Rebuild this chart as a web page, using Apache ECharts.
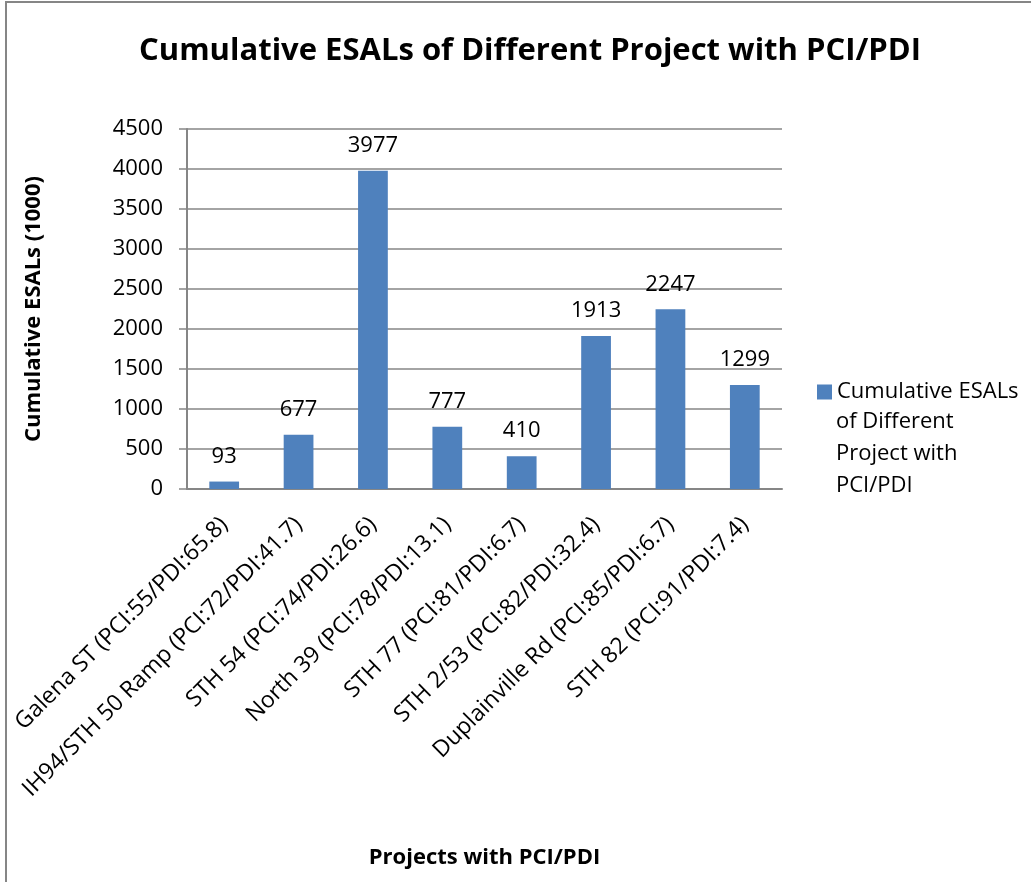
<!DOCTYPE html>
<html>
<head>
<meta charset="utf-8">
<script src="https://cdn.jsdelivr.net/npm/echarts@6/dist/echarts.min.js"></script>
<style>
  html, body { margin: 0; padding: 0; background: #fff; }
  #chart { width: 1031px; height: 882px; }
</style>
</head>
<body>
<div id="chart"></div>
<script>
const categories = [
  'Galena ST (PCI:55/PDI:65.8)',
  'IH94/STH 50 Ramp (PCI:72/PDI:41.7)',
  'STH 54 (PCI:74/PDI:26.6)',
  'North 39 (PCI:78/PDI:13.1)',
  'STH 77 (PCI:81/PDI:6.7)',
  'STH 2/53 (PCI:82/PDI:32.4)',
  'Duplainville Rd (PCI:85/PDI:6.7)',
  'STH 82 (PCI:91/PDI:7.4)'
]
const esals = [93, 677, 3977, 777, 410, 1913, 2247, 1299]
const seriesName = 'Cumulative ESALs of Different Project with PCI/PDI'

const font = 'Open Sans'
const axisGray = '#868686'

const chart = echarts.init(document.getElementById('chart'))
chart.setOption({
  animation: false,
  textStyle: { fontFamily: font },
  title: {
    text: 'Cumulative ESALs of Different Project with PCI/PDI',
    left: 525,
    top: 31,
    textAlign: 'center',
    textStyle: { fontSize: 31, fontWeight: 'bold', color: '#000', fontFamily: font },
  },
  graphic: [
    {
      type: 'polyline',
      shape: { points: [[6, 882], [6, 2], [1031, 2]] },
      style: { stroke: axisGray, lineWidth: 2, fill: null },
    },
    {
      // legend label continues below the first line
      type: 'text',
      left: 836,
      top: 406,
      style: {
        text: 'of Different\nProject with\nPCI/PDI',
        font: '22px "Open Sans"',
        lineHeight: 32,
        fill: '#000',
      },
    },
  ],
  grid: { left: 187, right: 249, top: 129, bottom: 393 },
  legend: {
    left: 812,
    top: 376,
    orient: 'vertical',
    icon: 'rect',
    itemWidth: 15,
    itemHeight: 15,
    itemGap: 4,
    formatter: () => 'Cumulative ESALs',
    textStyle: { fontSize: 22, color: '#000', fontFamily: font },
  },
  xAxis: {
    type: 'category',
    data: categories,
    name: 'Projects with PCI/PDI',
    nameLocation: 'middle',
    nameGap: 358,
    nameTextStyle: { fontSize: 22, fontWeight: 'bold', color: '#000', fontFamily: font },
    axisLine: { lineStyle: { color: axisGray, width: 2 } },
    axisTick: { show: false },
    axisLabel: { rotate: 45, fontSize: 23, color: '#000', margin: 32, interval: 0, fontFamily: font },
  },
  yAxis: {
    type: 'value',
    min: 0,
    max: 4500,
    interval: 500,
    name: 'Cumulative ESALs (1000)',
    nameLocation: 'middle',
    nameGap: 142,
    nameTextStyle: { fontSize: 22, fontWeight: 'bold', color: '#000', fontFamily: font },
    axisLine: { show: true, lineStyle: { color: axisGray, width: 2 } },
    axisTick: { show: true, length: 8, lineStyle: { color: axisGray, width: 1.5 } },
    axisLabel: { fontSize: 22, color: '#000', margin: 24, fontFamily: font, formatter: (v) => String(v) },
    splitLine: { lineStyle: { color: axisGray, width: 1.5 } },
  },
  series: [
    {
      name: seriesName,
      type: 'bar',
      data: esals,
      barCategoryGap: '60%',
      itemStyle: { color: '#4F81BD' },
      label: { show: true, position: 'top', distance: 14, fontSize: 22, color: '#000', fontFamily: font },
    },
  ],
})
</script>
</body>
</html>
